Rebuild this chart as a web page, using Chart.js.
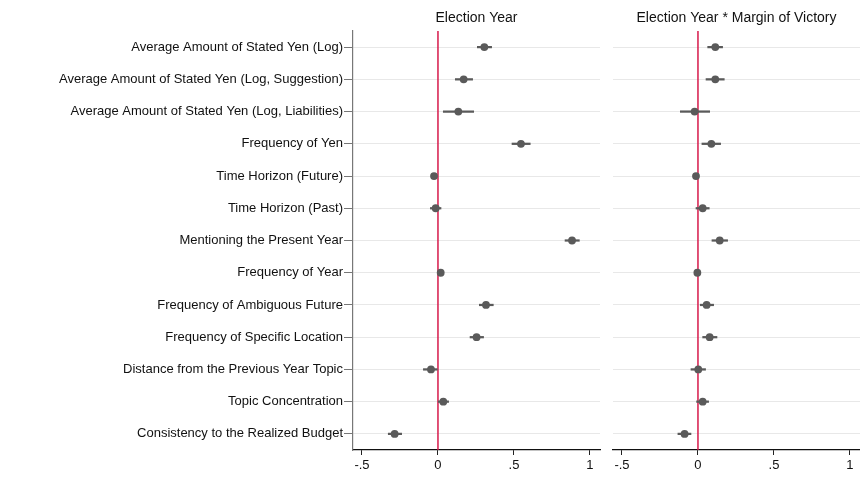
<!DOCTYPE html>
<html>
<head>
<meta charset="utf-8">
<script src="https://cdn.jsdelivr.net/npm/chart.js@4.4.1/dist/chart.umd.min.js"></script>
<style>
  html, body { margin: 0; padding: 0; background: #fff; overflow: hidden; }
  #wrap { position: relative; width: 860px; height: 478px; overflow: hidden; }
  #left { position: absolute; left: 0; top: 0; }
  #right { position: absolute; left: 604px; top: 0; }
</style>
</head>
<body>
<div id="wrap">
  <canvas id="left" width="604" height="478"></canvas>
  <canvas id="right" width="260" height="478"></canvas>
</div>
<script>
// outcome rows, top to bottom
const outcomes = [
  "Average Amount of Stated Yen (Log)",
  "Average Amount of Stated Yen (Log, Suggestion)",
  "Average Amount of Stated Yen (Log, Liabilities)",
  "Frequency of Yen",
  "Time Horizon (Future)",
  "Time Horizon (Past)",
  "Mentioning the Present Year",
  "Frequency of Year",
  "Frequency of Ambiguous Future",
  "Frequency of Specific Location",
  "Distance from the Previous Year Topic",
  "Topic Concentration",
  "Consistency to the Realized Budget",
];

// Election Year
const eyCoef = [0.305, 0.169, 0.134, 0.546, -0.026, -0.015, 0.882, 0.018, 0.316, 0.254, -0.046, 0.035, -0.285];
const eyLo   = [0.259, 0.114, 0.035, 0.487, -0.040, -0.050, 0.836, 0.008, 0.272, 0.211, -0.096, 0.002, -0.327];
const eyHi   = [0.353, 0.228, 0.235, 0.607, -0.012, 0.020, 0.930, 0.028, 0.364, 0.300, -0.005, 0.070, -0.239];

// Election Year * Margin of Victory
const mvCoef = [0.114, 0.114, -0.022, 0.088, -0.013, 0.031, 0.143, -0.004, 0.057, 0.077, 0.002, 0.031, -0.088];
const mvLo   = [0.064, 0.053, -0.116, 0.026, -0.022, -0.013, 0.092, -0.012, 0.015, 0.031, -0.046, -0.009, -0.132];
const mvHi   = [0.162, 0.173, 0.077, 0.149, -0.004, 0.074, 0.195, 0.004, 0.103, 0.125, 0.050, 0.070, -0.046];

const xTicks = [-0.5, 0, 0.5, 1];
const xMin = -0.559, xMax = 1.066;

const FONT = "'Liberation Sans', Arial, Helvetica, sans-serif";
const DOT = "#5a5a5a";

// vertical reference line at zero
const zeroLine = {
  id: "zeroLine",
  beforeDatasetsDraw(chart) {
    const { ctx, chartArea, scales } = chart;
    const x = scales.x.getPixelForValue(0);
    ctx.save();
    ctx.strokeStyle = "#d7194a";
    ctx.lineWidth = 1.5;
    ctx.beginPath();
    ctx.moveTo(x, chartArea.top);
    ctx.lineTo(x, chartArea.bottom);
    ctx.stroke();
    ctx.restore();
  },
};

function fmt(v) {
  if (v === 0) return "0";
  if (v === 1) return "1";
  return String(v).replace("0.", ".");
}

function makePanel(canvas, title, coef, lo, hi, showLabels) {
  return new Chart(canvas, {
    type: "bar",
    data: {
      labels: outcomes,
      datasets: [
        {
          data: lo.map((l, i) => [l, hi[i]]),
          backgroundColor: DOT,
          barThickness: 1.6,
          borderWidth: 0,
          order: 2,
        },
        {
          type: "scatter",
          data: coef.map((c, i) => ({ x: c, y: outcomes[i] })),
          backgroundColor: DOT,
          borderColor: DOT,
          pointRadius: 3.9,
          borderWidth: 0,
          order: 1,
        },
      ],
    },
    options: {
      responsive: false,
      animation: false,
      indexAxis: "y",
      layout: { padding: { left: showLabels ? 0 : 9, right: 0, top: 0, bottom: 0 } },
      plugins: {
        legend: { display: false },
        tooltip: { enabled: false },
        title: {
          display: true,
          text: title,
          fullSize: false,
          color: "#111",
          font: { family: FONT, size: 14, weight: "normal" },
          padding: { top: 10, bottom: 4.2 },
        },
      },
      scales: {
        x: {
          type: "linear",
          min: xMin,
          max: xMax,
          afterBuildTicks: (s) => { s.ticks = xTicks.map((v) => ({ value: v })); },
          afterFit: (s) => { s.height = 28; },
          ticks: {
            color: "#111",
            font: { family: FONT, size: 13 },
            padding: 3,
            autoSkip: false,
            maxRotation: 0,
            callback: (v) => fmt(v),
          },
          grid: { drawOnChartArea: false, drawTicks: true, tickLength: 5, tickColor: "#222", tickWidth: 1 },
          border: { color: "#111", width: 1.2 },
        },
        y: {
          type: "category",
          offset: true,
          afterFit: (s) => { s.width = showLabels ? 353 : 0; },
          ticks: {
            display: showLabels,
            color: "#111",
            font: { family: FONT, size: 13 },
            padding: 1,
            autoSkip: false,
          },
          grid: {
            offset: false,
            color: "#e8e8e8",
            lineWidth: 1,
            drawTicks: showLabels,
            tickLength: 9,
            tickColor: "#777",
          },
          border: { display: showLabels, color: "#777", width: 1.2 },
        },
      },
    },
    plugins: [zeroLine],
  });
}

makePanel(document.getElementById("left"), "Election Year", eyCoef, eyLo, eyHi, true);
makePanel(document.getElementById("right"), "Election Year * Margin of Victory", mvCoef, mvLo, mvHi, false);
</script>
</body>
</html>
